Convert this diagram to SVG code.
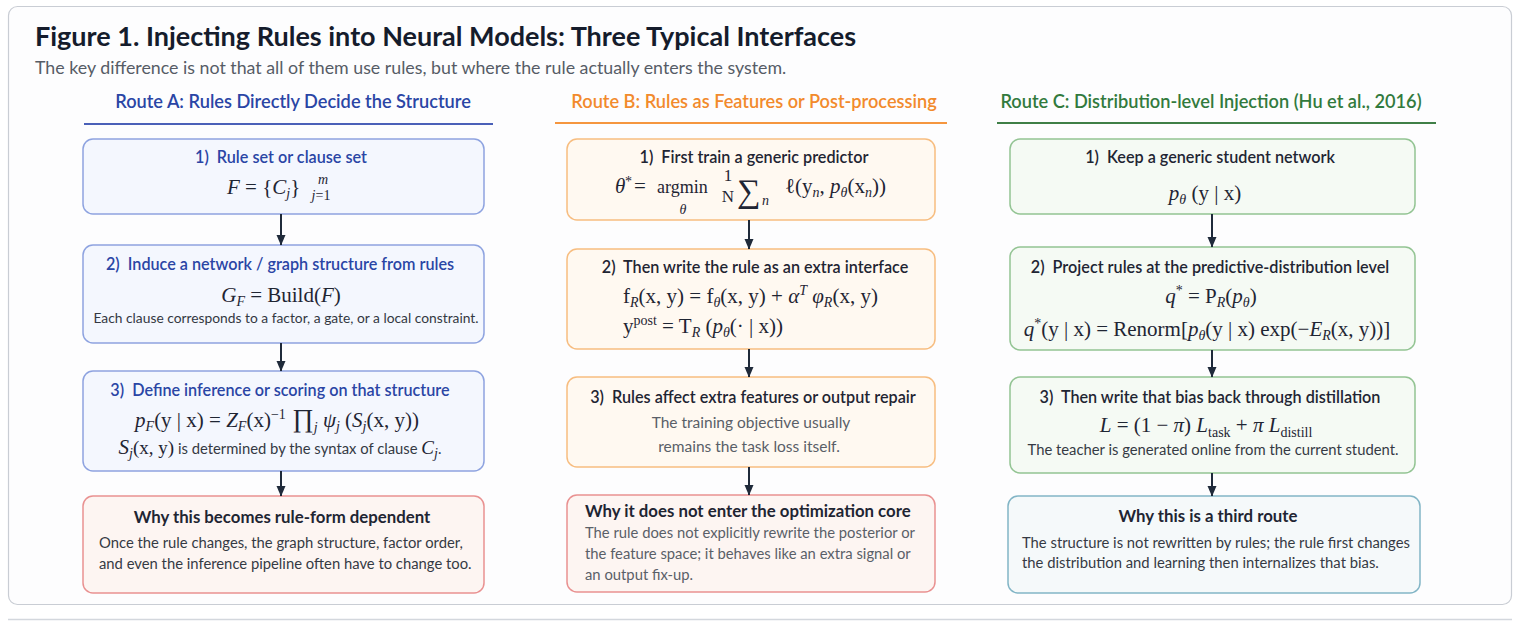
<svg xmlns="http://www.w3.org/2000/svg" width="1536" height="621" viewBox="0 0 1536 621">
<defs>
<style>
text{font-family:Lato,"Open Sans","Liberation Sans",sans-serif;}
.ttl{font-size:27px;font-weight:700;fill:#151c2c}
.sub{font-size:17.8px;fill:#565c66}
.rh{font-size:18.2px;font-weight:600}
.bt{font-size:16.2px;font-weight:600;fill:#1f2533}
.btA{fill:#2a45a5}
.wt{font-size:16.8px;font-weight:700;fill:#1f2533}
.body{font-size:14.8px;fill:#353a44}
.gray{fill:#5a5f68}
.lg{font-size:15.5px}
.sm{font-size:13.8px;fill:#333842}
.m{font-family:"Liberation Serif","Times New Roman",serif;font-size:21px;fill:#1f2533}
.i{font-style:italic}
.am{font-size:18px}
.fr{font-size:17px}
.big{font-size:26px}
.sig{font-size:33px}
.s{font-size:14px}
.box{stroke-width:1.5}
.bA{fill:#f4f7fe;stroke:#8ea3e0}
.bB{fill:#fff9f1;stroke:#f7bd80}
.bC{fill:#f5faf4;stroke:#93c493}
.bR{fill:#fdf5f2;stroke:#e99191}
.bT{fill:#f5f9fa;stroke:#82b5c6}
.conn line{stroke:#1f2a3a;stroke-width:2;marker-end:url(#ah)}
</style>
<marker id="ah" markerWidth="11" markerHeight="10" refX="10" refY="5" orient="auto" markerUnits="userSpaceOnUse"><path d="M0,0.5 L10.5,5 L0,9.5 z" fill="#1f2a3a"/></marker>
</defs>
<rect width="1536" height="621" fill="#ffffff"/>
<rect x="8.5" y="6.5" width="1503" height="598" rx="9" fill="#fdfdfe" stroke="#c9cdd4" stroke-width="1.2"/>
<line x1="8" y1="619.5" x2="1512" y2="619.5" stroke="#d3d7dd" stroke-width="1.5"/>

<g id="header">
<text class="ttl" x="35" y="46">Figure 1. Injecting Rules into Neural Models: Three Typical Interfaces</text>
<text class="sub" x="35" y="74">The key difference is not that all of them use rules, but where the rule actually enters the system.</text>
<text class="rh" x="293" y="108" text-anchor="middle" fill="#2a45a5">Route A: Rules Directly Decide the Structure</text>
<line x1="84" y1="124" x2="493" y2="124" stroke="#4a60b8" stroke-width="2"/>
<text class="rh" x="754" y="108" text-anchor="middle" fill="#f28a2c">Route B: Rules as Features or Post-processing</text>
<line x1="555" y1="123" x2="947" y2="123" stroke="#f5963f" stroke-width="2"/>
<text class="rh" x="1211" y="108" text-anchor="middle" fill="#327a3d">Route C: Distribution-level Injection (Hu et al., 2016)</text>
<line x1="997" y1="123" x2="1436" y2="123" stroke="#3f7f47" stroke-width="2"/>
</g>

<g id="A1">
<rect class="box bA" x="83" y="139" width="401" height="75" rx="10"/>
<text class="bt btA" x="281" y="163" text-anchor="middle">1)&#160; Rule set or clause set</text>
<text class="m" x="227" y="194"><tspan class="i">F</tspan> = {<tspan class="i">C</tspan><tspan class="s i" dy="4">j</tspan><tspan dy="-4">}</tspan></text>
<text class="m s i" x="323" y="184" text-anchor="middle">m</text>
<text class="m s" x="321" y="200" text-anchor="middle"><tspan class="i">j</tspan>=1</text>
</g>

<g id="A2">
<rect class="box bA" x="83" y="245" width="401" height="98" rx="10"/>
<text class="bt btA" x="280" y="270" text-anchor="middle">2)&#160; Induce a network / graph structure from rules</text>
<text class="m" x="281" y="302" text-anchor="middle"><tspan class="i">G</tspan><tspan class="s i" dy="4">F</tspan><tspan dy="-4"> = Build(</tspan><tspan class="i">F</tspan>)</text>
<text class="sm" x="286" y="323" text-anchor="middle">Each clause corresponds to a factor, a gate, or a local constraint.</text>
</g>

<g id="A3">
<rect class="box bA" x="83" y="371" width="401" height="100" rx="10"/>
<text class="bt btA" x="280" y="396" text-anchor="middle">3)&#160; Define inference or scoring on that structure</text>
<text class="m" x="277" y="427" text-anchor="middle"><tspan class="i">p</tspan><tspan class="s i" dy="4">F</tspan><tspan dy="-4">(y | x) = </tspan><tspan class="i">Z</tspan><tspan class="s i" dy="4">F</tspan><tspan dy="-4">(x)</tspan><tspan class="s" dy="-8">−1</tspan><tspan class="big" dy="8"> ∏</tspan><tspan class="s i" dy="5">j</tspan><tspan class="i" dy="-5"> ψ</tspan><tspan class="s i" dy="4">j</tspan><tspan dy="-4"> (</tspan><tspan class="i">S</tspan><tspan class="s i" dy="4">j</tspan><tspan dy="-4">(x, y))</tspan></text>
<text class="body" x="280" y="454" text-anchor="middle"><tspan class="m i">S</tspan><tspan class="m s i" dy="4">j</tspan><tspan class="m" dy="-4" style="font-size:19px">(x, y)</tspan> is determined by the syntax of clause <tspan class="m i" style="font-size:19px">C</tspan><tspan class="m s i" dy="4">j</tspan><tspan dy="-4">.</tspan></text>
</g>

<g id="A4">
<rect class="box bR" x="83" y="496" width="401" height="97" rx="10"/>
<text class="wt" x="282" y="523" text-anchor="middle">Why this becomes rule-form dependent</text>
<text class="body" x="99" y="548">Once the rule changes, the graph structure, factor order,</text>
<text class="body" x="99" y="569">and even the inference pipeline often have to change too.</text>
</g>

<g id="B1">
<rect class="box bB" x="567" y="139" width="368" height="81" rx="10"/>
<text class="bt" x="754" y="163" text-anchor="middle">1)&#160; First train a generic predictor</text>
<text class="m i" x="615" y="193">θ</text>
<text class="m s" x="625" y="186">*</text>
<text class="m" x="634" y="193">=</text>
<text class="m am" x="657" y="193">argmin</text>
<text class="m s i" x="683" y="214" text-anchor="middle">θ</text>
<text class="m fr" x="728" y="181" text-anchor="middle">1</text>
<text class="m fr" x="728" y="202" text-anchor="middle">N</text>
<text class="m sig" x="737" y="202">∑</text>
<text class="m s i" x="762" y="205">n</text>
<text class="m" x="785" y="193">ℓ(y<tspan class="s i" dy="4">n</tspan><tspan dy="-4">, </tspan><tspan class="i">p</tspan><tspan class="s i" dy="4">θ</tspan><tspan dy="-4">(x</tspan><tspan class="s i" dy="4">n</tspan><tspan dy="-4">))</tspan></text>
</g>

<g id="B2">
<rect class="box bB" x="567" y="249" width="368" height="100" rx="10"/>
<text class="bt" x="755" y="273" text-anchor="middle">2)&#160; Then write the rule as an extra interface</text>
<text class="m" x="623" y="303">f<tspan class="s i" dy="4">R</tspan><tspan dy="-4">(x, y) = f</tspan><tspan class="s i" dy="4">θ</tspan><tspan dy="-4">(x, y) + </tspan><tspan class="i">α</tspan><tspan class="s i" dy="-8">T</tspan><tspan class="i" dy="8"> φ</tspan><tspan class="s i" dy="4">R</tspan><tspan dy="-4">(x, y)</tspan></text>
<text class="m" x="623" y="333">y<tspan class="s" dy="-8">post</tspan><tspan dy="8"> = T</tspan><tspan class="s i" dy="4">R</tspan><tspan dy="-4"> (</tspan><tspan class="i">p</tspan><tspan class="s i" dy="4">θ</tspan><tspan dy="-4">(· | x))</tspan></text>
</g>

<g id="B3">
<rect class="box bB" x="567" y="377" width="368" height="90" rx="10"/>
<text class="bt" x="753" y="403" text-anchor="middle">3)&#160; Rules affect extra features or output repair</text>
<text class="body gray lg" x="751" y="428" text-anchor="middle">The training objective usually</text>
<text class="body gray lg" x="749" y="452" text-anchor="middle">remains the task loss itself.</text>
</g>

<g id="B4">
<rect class="box bR" x="567" y="495" width="368" height="97" rx="10"/>
<text class="wt" x="585" y="517">Why it does not enter the optimization core</text>
<text class="body gray" x="585" y="538">The rule does not explicitly rewrite the posterior or</text>
<text class="body gray" x="585" y="559">the feature space; it behaves like an extra signal or</text>
<text class="body gray" x="585" y="580">an output fix-up.</text>
</g>

<g id="C1">
<rect class="box bC" x="1010" y="139" width="405" height="75" rx="10"/>
<text class="bt" x="1210" y="163" text-anchor="middle">1)&#160; Keep a generic student network</text>
<text class="m" x="1205" y="200" text-anchor="middle"><tspan class="i">p</tspan><tspan class="s i" dy="4">θ</tspan><tspan dy="-4"> (y | x)</tspan></text>
</g>

<g id="C2">
<rect class="box bC" x="1010" y="247" width="405" height="103" rx="10"/>
<text class="bt" x="1210" y="273" text-anchor="middle">2)&#160; Project rules at the predictive-distribution level</text>
<text class="m" x="1211" y="303" text-anchor="middle"><tspan class="i">q</tspan><tspan class="s" dy="-8">*</tspan><tspan dy="8"> = P</tspan><tspan class="s i" dy="4">R</tspan><tspan dy="-4">(</tspan><tspan class="i">p</tspan><tspan class="s i" dy="4">θ</tspan><tspan dy="-4">)</tspan></text>
<text class="m" x="1207" y="336" text-anchor="middle"><tspan class="i">q</tspan><tspan class="s" dy="-8">*</tspan><tspan dy="8">(y | x) = Renorm[</tspan><tspan class="i">p</tspan><tspan class="s i" dy="4">θ</tspan><tspan dy="-4">(y | x) exp(−</tspan><tspan class="i">E</tspan><tspan class="s i" dy="4">R</tspan><tspan dy="-4">(x, y))]</tspan></text>
</g>

<g id="C3">
<rect class="box bC" x="1010" y="377" width="405" height="96" rx="10"/>
<text class="bt" x="1210" y="403" text-anchor="middle">3)&#160; Then write that bias back through distillation</text>
<text class="m" x="1206" y="432" text-anchor="middle"><tspan class="i">L</tspan> = (1 − <tspan class="i">π</tspan>) <tspan class="i">L</tspan><tspan class="s" dy="5">task</tspan><tspan dy="-5"> + </tspan><tspan class="i">π</tspan> <tspan class="i">L</tspan><tspan class="s" dy="5">distill</tspan></text>
<text class="body" x="1213" y="455" text-anchor="middle">The teacher is generated online from the current student.</text>
</g>

<g id="C4">
<rect class="box bT" x="1008" y="496" width="412" height="97" rx="10"/>
<text class="wt" x="1208" y="522" text-anchor="middle">Why this is a third route</text>
<text class="body" x="1022" y="548">The structure is not rewritten by rules; the rule first changes</text>
<text class="body" x="1022" y="568">the distribution and learning then internalizes that bias.</text>
</g>

<g id="connectors" class="conn">
<line x1="281" y1="214" x2="281" y2="245"/>
<line x1="281" y1="343" x2="281" y2="371"/>
<line x1="281" y1="471" x2="281" y2="496"/>
<line x1="749" y1="220" x2="749" y2="249"/>
<line x1="749" y1="349" x2="749" y2="377"/>
<line x1="749" y1="467" x2="749" y2="495"/>
<line x1="1212" y1="214" x2="1212" y2="247"/>
<line x1="1212" y1="350" x2="1212" y2="377"/>
<line x1="1212" y1="473" x2="1212" y2="496"/>
</g>
</svg>
